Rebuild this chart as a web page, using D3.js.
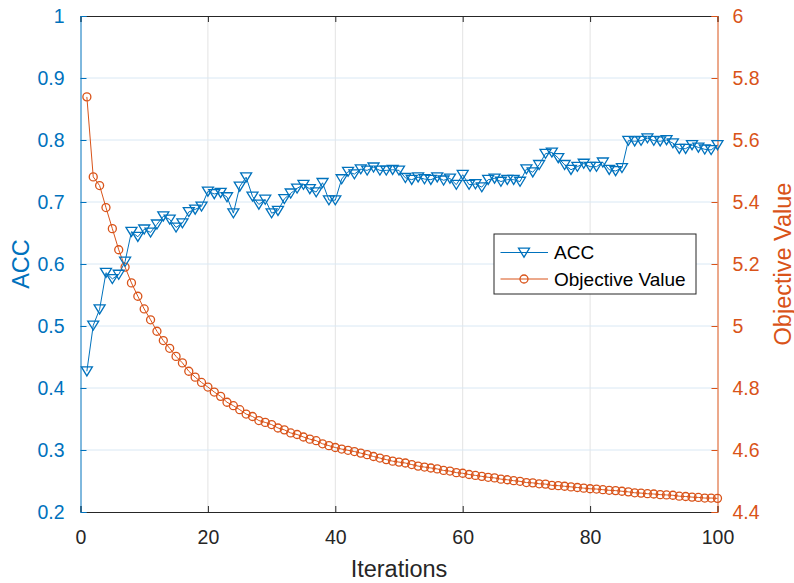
<!DOCTYPE html>
<html>
<head>
<meta charset="utf-8">
<script src="https://cdn.jsdelivr.net/npm/d3@7"></script>
<style>
	body { margin: 0; background: #fff; }
	svg { display: block; font-family: "Liberation Sans", Arial, sans-serif; }
</style>
</head>
<body>
<div id="chart"></div>
<script>
// data
var acc = [0.427, 0.501, 0.527, 0.586, 0.576, 0.583, 0.604, 0.652, 0.644, 0.656,
	0.651, 0.664, 0.677, 0.672, 0.659, 0.666, 0.684, 0.688, 0.693, 0.717,
	0.713, 0.715, 0.708, 0.682, 0.725, 0.740, 0.709, 0.696, 0.704, 0.682,
	0.686, 0.705, 0.714, 0.722, 0.728, 0.721, 0.716, 0.731, 0.703, 0.703,
	0.737, 0.749, 0.745, 0.753, 0.751, 0.756, 0.751, 0.751, 0.752, 0.751,
	0.739, 0.736, 0.740, 0.737, 0.736, 0.740, 0.735, 0.738, 0.728, 0.744,
	0.728, 0.729, 0.724, 0.736, 0.738, 0.733, 0.736, 0.736, 0.733, 0.753,
	0.748, 0.760, 0.778, 0.780, 0.771, 0.760, 0.752, 0.757, 0.762, 0.757,
	0.757, 0.764, 0.752, 0.750, 0.755, 0.799, 0.798, 0.799, 0.803, 0.799,
	0.798, 0.800, 0.795, 0.786, 0.786, 0.792, 0.788, 0.785, 0.784, 0.792];

var objVal = [5.739, 5.481, 5.453, 5.382, 5.314, 5.246, 5.190, 5.139, 5.096, 5.055,
	5.020, 4.983, 4.953, 4.928, 4.902, 4.881, 4.854, 4.835, 4.818, 4.803,
	4.787, 4.773, 4.754, 4.743, 4.730, 4.716, 4.708, 4.695, 4.689, 4.682,
	4.671, 4.665, 4.655, 4.650, 4.642, 4.635, 4.630, 4.620, 4.614, 4.608,
	4.603, 4.599, 4.595, 4.590, 4.585, 4.579, 4.574, 4.569, 4.564, 4.561,
	4.558, 4.553, 4.548, 4.545, 4.542, 4.539, 4.534, 4.532, 4.527, 4.525,
	4.521, 4.518, 4.515, 4.512, 4.510, 4.506, 4.504, 4.501, 4.499, 4.495,
	4.494, 4.491, 4.490, 4.486, 4.485, 4.483, 4.481, 4.479, 4.477, 4.475,
	4.474, 4.472, 4.470, 4.469, 4.467, 4.465, 4.462, 4.461, 4.459, 4.458,
	4.456, 4.455, 4.454, 4.451, 4.450, 4.448, 4.447, 4.445, 4.445, 4.444];

var iterations = acc.map(function(d, i) { return i + 1; });

var xTicks = [0, 20, 40, 60, 80, 100];
var accTicks = [0.2, 0.3, 0.4, 0.5, 0.6, 0.7, 0.8, 0.9, 1];
var objTicks = [4.4, 4.6, 4.8, 5, 5.2, 5.4, 5.6, 5.8, 6];
var seriesNames = ["ACC", "Objective Value"];

var blue = "#0072BD", orange = "#D95319", axisCol = "#262626";
var tickFont = 19.5, labelFont = 23.5;

var W = 794, H = 583;
var margin = {top: 16, right: 76.5, bottom: 71, left: 80.5},
    width = W - margin.left - margin.right,
    height = H - margin.top - margin.bottom;

var x = d3.scaleLinear().domain([0, 100]).range([0, width]);
var yL = d3.scaleLinear().domain([0.2, 1]).range([height, 0]);
var yR = d3.scaleLinear().domain([4.4, 6]).range([height, 0]);

var svg = d3.select("#chart").append("svg")
	.attr("width", W)
	.attr("height", H)
	.append("g")
	.attr("transform", "translate(" + margin.left + "," + margin.top + ")");

//grid lines
svg.append("g")
	.selectAll("line")
	.data(xTicks.slice(1, -1))
	.enter().append("line")
	.attr("x1", function(d) { return x(d); })
	.attr("x2", function(d) { return x(d); })
	.attr("y1", 0).attr("y2", height)
	.attr("stroke", "#e3e3e3").attr("stroke-width", 1);

svg.append("g")
	.selectAll("line")
	.data(accTicks.slice(1, -1))
	.enter().append("line")
	.attr("x1", 0).attr("x2", width)
	.attr("y1", function(d) { return yL(d); })
	.attr("y2", function(d) { return yL(d); })
	.attr("stroke", "#d9e8f4").attr("stroke-width", 1);

//axes
var fmt = function(d) { return d3.format("")(+d.toFixed(2)); };

var xAxis = svg.append("g")
	.attr("transform", "translate(0," + height + ")")
	.call(d3.axisBottom(x).tickValues(xTicks).tickSize(-6).tickPadding(18).tickFormat(fmt));
xAxis.select(".domain").attr("stroke", axisCol);
xAxis.selectAll(".tick line").attr("stroke", axisCol);
xAxis.selectAll("text").attr("fill", axisCol).attr("font-size", tickFont).attr("font-family", "Liberation Sans, Arial, sans-serif");

var xTop = svg.append("g")
	.call(d3.axisTop(x).tickValues(xTicks).tickSize(-6).tickFormat(""));
xTop.select(".domain").attr("stroke", axisCol);
xTop.selectAll(".tick line").attr("stroke", axisCol);

var leftAxis = svg.append("g")
	.call(d3.axisLeft(yL).tickValues(accTicks).tickSize(-6).tickPadding(16).tickFormat(fmt));
leftAxis.select(".domain").attr("stroke", blue);
leftAxis.selectAll(".tick line").attr("stroke", blue);
leftAxis.selectAll("text").attr("fill", blue).attr("font-size", tickFont).attr("font-family", "Liberation Sans, Arial, sans-serif");

var rightAxis = svg.append("g")
	.attr("transform", "translate(" + width + ",0)")
	.call(d3.axisRight(yR).tickValues(objTicks).tickSize(-6).tickPadding(15).tickFormat(fmt));
rightAxis.select(".domain").attr("stroke", orange);
rightAxis.selectAll(".tick line").attr("stroke", orange);
rightAxis.selectAll("text").attr("fill", orange).attr("font-size", tickFont).attr("font-family", "Liberation Sans, Arial, sans-serif");

//axis labels
svg.append("text")
	.attr("x", width / 2).attr("y", height + 65)
	.attr("text-anchor", "middle")
	.attr("font-size", labelFont).attr("fill", axisCol)
	.text("Iterations");

svg.append("text")
	.attr("transform", "translate(-52," + (height / 2) + ") rotate(-90)")
	.attr("text-anchor", "middle")
	.attr("font-size", labelFont).attr("fill", blue)
	.text("ACC");

svg.append("text")
	.attr("transform", "translate(" + (width + 73) + "," + (height / 2) + ") rotate(-90)")
	.attr("text-anchor", "middle")
	.attr("font-size", labelFont).attr("fill", orange)
	.text("Objective Value");

//series
var triPath = "M-5.5,-4.3H5.5L0,4.7Z";

var accLine = d3.line()
	.x(function(d, i) { return x(iterations[i]); })
	.y(function(d) { return yL(d); });
var objLine = d3.line()
	.x(function(d, i) { return x(iterations[i]); })
	.y(function(d) { return yR(d); });

svg.append("path")
	.datum(objVal)
	.attr("d", objLine)
	.attr("fill", "none").attr("stroke", orange).attr("stroke-width", 1);

svg.append("g")
	.selectAll("circle")
	.data(objVal)
	.enter().append("circle")
	.attr("cx", function(d, i) { return x(iterations[i]); })
	.attr("cy", function(d) { return yR(d); })
	.attr("r", 4)
	.attr("fill", "none").attr("stroke", orange).attr("stroke-width", 1.3);

svg.append("path")
	.datum(acc)
	.attr("d", accLine)
	.attr("fill", "none").attr("stroke", blue).attr("stroke-width", 1);

svg.append("g")
	.selectAll("path")
	.data(acc)
	.enter().append("path")
	.attr("transform", function(d, i) {
		return "translate(" + x(iterations[i]) + "," + yL(d) + ")";
	})
	.attr("d", triPath)
	.attr("fill", "none").attr("stroke", blue).attr("stroke-width", 1.3);

//legend
var legend = svg.append("g")
	.attr("transform", "translate(" + (494 - margin.left) + "," + (234 - margin.top) + ")");
legend.append("rect")
	.attr("x", 0).attr("y", 0)
	.attr("width", 202).attr("height", 60)
	.attr("fill", "#fff").attr("stroke", "#262626").attr("stroke-width", 1);

var rows = legend.selectAll(".row")
	.data(seriesNames)
	.enter().append("g")
	.attr("class", "row")
	.attr("transform", function(d, i) { return "translate(0," + (18.5 + i * 26.5) + ")"; });

rows.append("line")
	.attr("x1", 6.5).attr("x2", 54)
	.attr("stroke", function(d, i) { return i == 0 ? blue : orange; })
	.attr("stroke-width", 1);

rows.append("path")
	.attr("transform", "translate(30,0)")
	.attr("d", function(d, i) { return i == 0 ? triPath : d3.symbol(d3.symbolCircle, 50)(); })
	.attr("fill", "none")
	.attr("stroke", function(d, i) { return i == 0 ? blue : orange; })
	.attr("stroke-width", 1.3);

rows.append("text")
	.attr("x", 60).attr("dy", "0.35em")
	.attr("font-size", 19).attr("fill", "#000")
	.text(function(d) { return d; });
</script>
</body>
</html>
